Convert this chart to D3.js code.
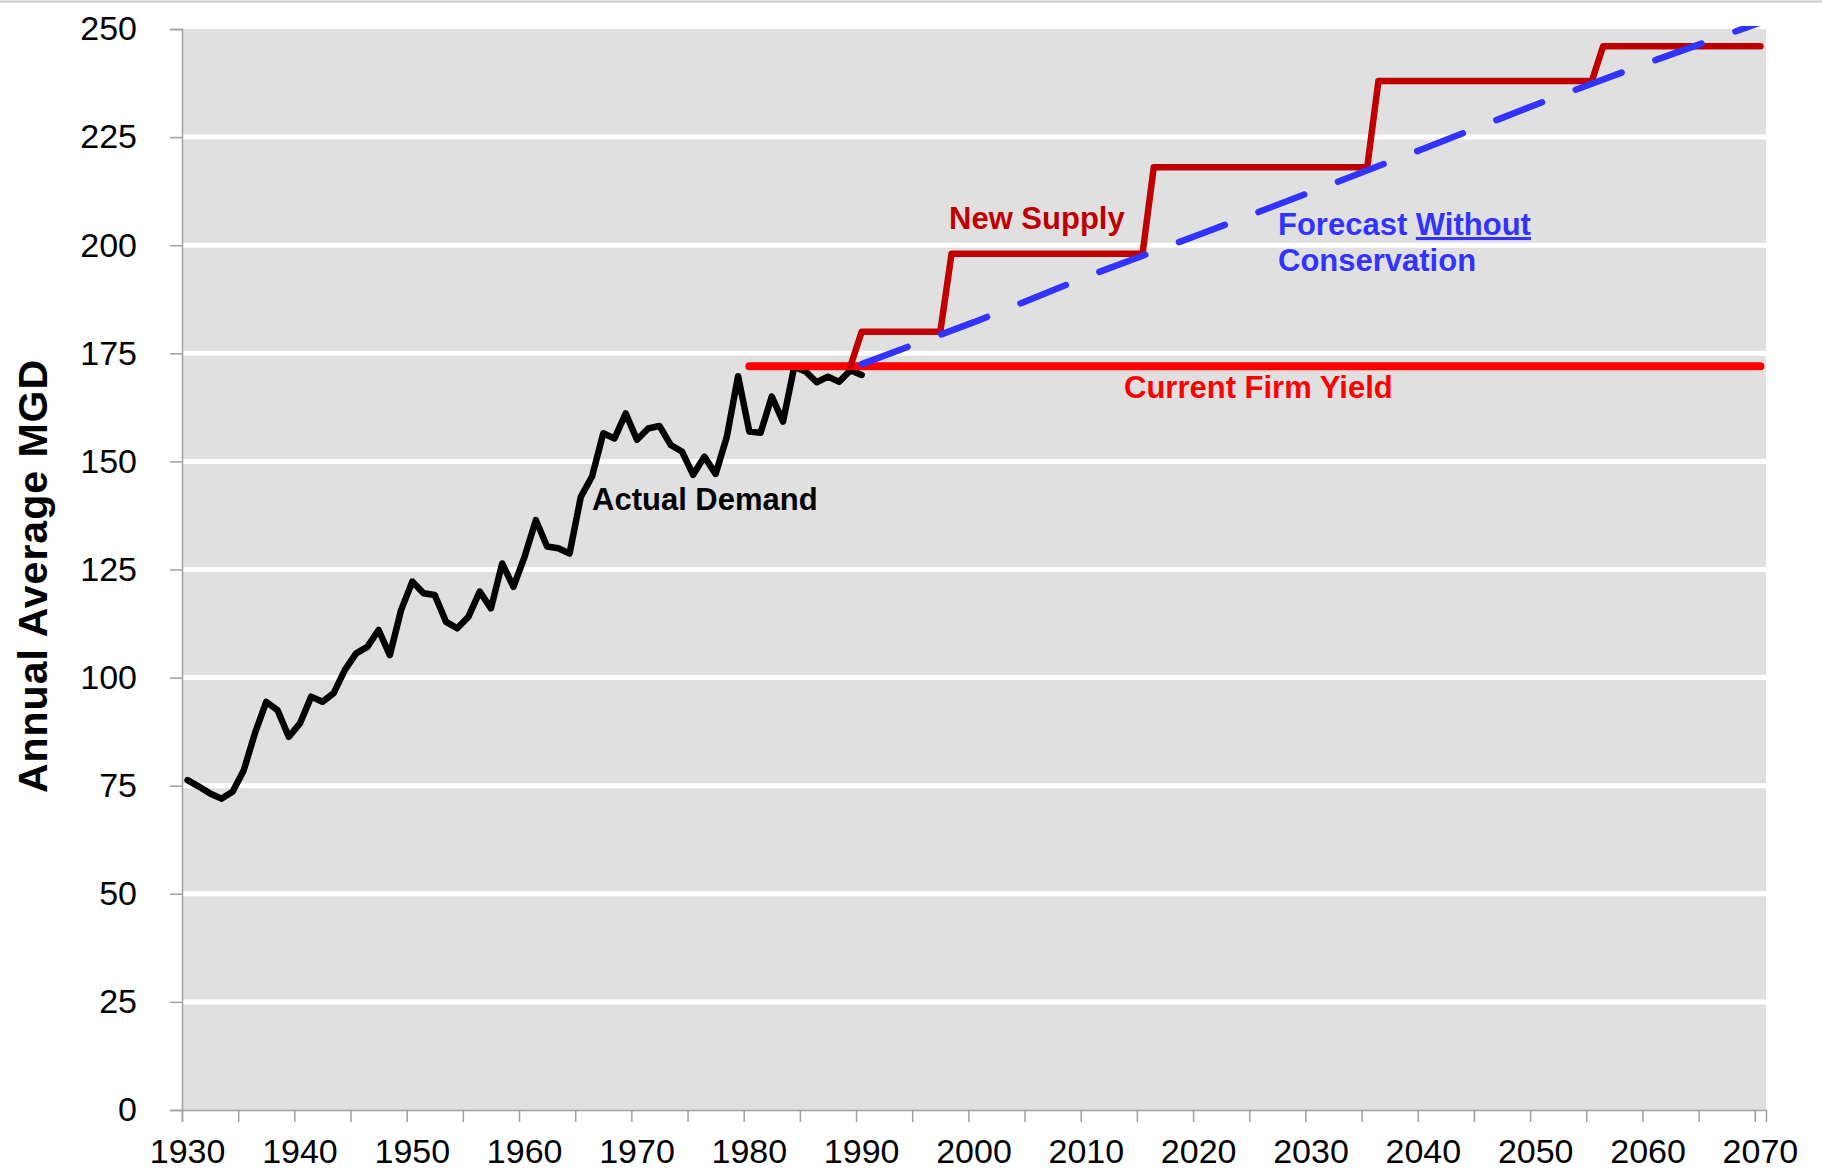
<!DOCTYPE html>
<html>
<head>
<meta charset="utf-8">
<script src="https://cdn.jsdelivr.net/npm/d3@7"></script>
<style>
    body { margin: 0; background: #fff; }
    text { font-family: Arial, "Liberation Sans", sans-serif; }
</style>
</head>
<body>
<div id="chart"></div>
<script>
// Actual demand, one value per year 1930-1990
let demandYears = d3.range(1930, 1991);
let demandValues = [
    76.3, 74.8, 73.2, 72.0, 73.6, 78.6, 87.2, 94.4, 92.5, 86.3,
    89.4, 95.6, 94.4, 96.4, 101.8, 105.6, 107.1, 111.0, 105.2, 115.6,
    122.2, 119.5, 119.1, 112.9, 111.4, 114.1, 119.9, 116.0, 126.4, 121.0,
    128.0, 136.4, 130.3, 129.9, 128.7, 141.8, 146.5, 156.5, 155.3, 161.1,
    155.0, 157.6, 158.2, 153.8, 152.3, 146.9, 151.1, 147.1, 155.7, 169.7,
    156.9, 156.6, 165.0, 159.2, 171.9, 170.8, 168.3, 169.6, 168.4, 171.1,
    170.0
];

// Current firm yield
let firmYears = [1980, 2070];
let firmValues = [172, 172];

// New supply steps
let supplyYears = [1989, 1990, 1997, 1998, 2015, 2016, 2035, 2036, 2055, 2056, 2070];
let supplyValues = [172, 180, 180, 198, 198, 218, 218, 238, 238, 246, 246];

// Forecast without conservation
let forecastYears = [1990, 2000, 2010, 2020, 2030, 2040, 2050, 2060, 2070];
let forecastValues = [172.5, 182.2, 192.7, 202.4, 212.3, 222.3, 232.5, 242.2, 251.5];

// Axis ticks
let yTicks = [0, 25, 50, 75, 100, 125, 150, 175, 200, 225, 250];
let xTickMarks = d3.range(1930, 2071, 5);
let xLabels = [1930, 1940, 1950, 1960, 1970, 1980, 1990, 2000, 2010, 2020, 2030, 2040, 2050, 2060, 2070];

let W = 1822, H = 1170;
let plotL = 182, plotR = 1766, plotT = 29, plotB = 1110;

let svg = d3.select("#chart")
    .append("svg")
    .attr("width", W)
    .attr("height", H);

//Thin border at the very top
svg.append("line")
    .attr("x1", 0).attr("x2", W)
    .attr("y1", 1.5).attr("y2", 1.5)
    .style("stroke", "#c8c8c8")
    .style("stroke-width", 2);

//Category axis: every year is one slot, points sit in the middle of a slot
let x = d3.scaleLinear().domain([1930, 2071]).range([plotL, plotR]);
let y = d3.scaleLinear().domain([0, 250]).range([plotB, plotT]);
let cx = function (yr) { return x(yr + 0.5); };

//Plot background
svg.append("rect")
    .attr("x", plotL)
    .attr("y", plotT)
    .attr("width", plotR - plotL)
    .attr("height", plotB - plotT)
    .style("fill", "#e0e0e0");

//White gridlines
svg.append("g")
    .selectAll("line")
    .data(yTicks.filter(function (d) { return d > 0 && d < 250; }))
    .enter()
    .append("line")
    .attr("x1", plotL)
    .attr("x2", plotR)
    .attr("y1", function (d) { return y(d); })
    .attr("y2", function (d) { return y(d); })
    .style("stroke", "#fff")
    .style("stroke-width", 5);

//Y axis
let yAxis = svg.append("g")
    .attr("transform", "translate(" + plotL + ",0)")
    .call(d3.axisLeft(y).tickValues(yTicks).tickSize(12).tickPadding(33));
yAxis.selectAll("path, line").style("stroke", "#a0a0a0").style("stroke-width", 1.5);
yAxis.selectAll("text")
    .style("font-size", "34px")
    .style("fill", "#000")
    .style("font-family", "Arial, 'Liberation Sans', sans-serif");

//X axis (tick marks on slot edges every 5 years)
let xAxis = svg.append("g")
    .attr("transform", "translate(0," + plotB + ")")
    .call(d3.axisBottom(x).tickValues(xTickMarks).tickSize(12).tickFormat(""));
xAxis.selectAll("path, line").style("stroke", "#a0a0a0").style("stroke-width", 1.5);

//X labels, centered on their year slot
svg.append("g")
    .selectAll("text")
    .data(xLabels)
    .enter()
    .append("text")
    .attr("x", function (d) { return cx(d); })
    .attr("y", 1163)
    .attr("text-anchor", "middle")
    .style("font-size", "34px")
    .style("fill", "#000")
    .text(function (d) { return d; });

//Y axis title
svg.append("text")
    .attr("transform", "translate(47,576) rotate(-90)")
    .attr("text-anchor", "middle")
    .style("font-size", "41px")
    .style("font-weight", "bold")
    .style("letter-spacing", "1px")
    .text("Annual Average MGD");

//Clip the series to the plot (a bit of room at the top like Excel)
svg.append("clipPath")
    .attr("id", "plotClip")
    .append("rect")
    .attr("x", plotL)
    .attr("y", plotT - 3)
    .attr("width", plotR - plotL)
    .attr("height", plotB - plotT + 3);

let line = d3.line()
    .x(function (d) { return cx(d[0]); })
    .y(function (d) { return y(d[1]); });

let series = svg.append("g").attr("clip-path", "url(#plotClip)");

function drawSeries(years, values, color, width, dash) {
    let pts = years.map(function (yr, i) { return [yr, values[i]]; });
    let p = series.append("path")
        .datum(pts)
        .attr("d", line)
        .style("fill", "none")
        .style("stroke", color)
        .style("stroke-width", width)
        .style("stroke-linecap", "round")
        .style("stroke-linejoin", "round");
    if (dash) p.style("stroke-dasharray", dash);
    return p;
}

drawSeries(demandYears, demandValues, "#000", 6.5);
drawSeries(firmYears, firmValues, "#ff0000", 8);
drawSeries(supplyYears, supplyValues, "#c00000", 6.5);
drawSeries(forecastYears, forecastValues, "#3333ff", 6.5, "49 36");

//Annotations
let notes = svg.append("g")
    .style("font-size", "31px")
    .style("font-weight", "bold");

notes.append("text")
    .attr("x", 592).attr("y", 510)
    .style("fill", "#000")
    .text("Actual Demand");

notes.append("text")
    .attr("x", 949).attr("y", 229)
    .style("fill", "#c00000")
    .text("New Supply");

notes.append("text")
    .attr("x", 1124).attr("y", 398)
    .style("fill", "#ff0000")
    .text("Current Firm Yield");

let fc = notes.append("text")
    .attr("x", 1278).attr("y", 235)
    .style("fill", "#3333ff");
fc.append("tspan").text("Forecast ");
fc.append("tspan").style("text-decoration", "underline").text("Without");

notes.append("text")
    .attr("x", 1278).attr("y", 271)
    .style("fill", "#3333ff")
    .text("Conservation");
</script>
</body>
</html>
